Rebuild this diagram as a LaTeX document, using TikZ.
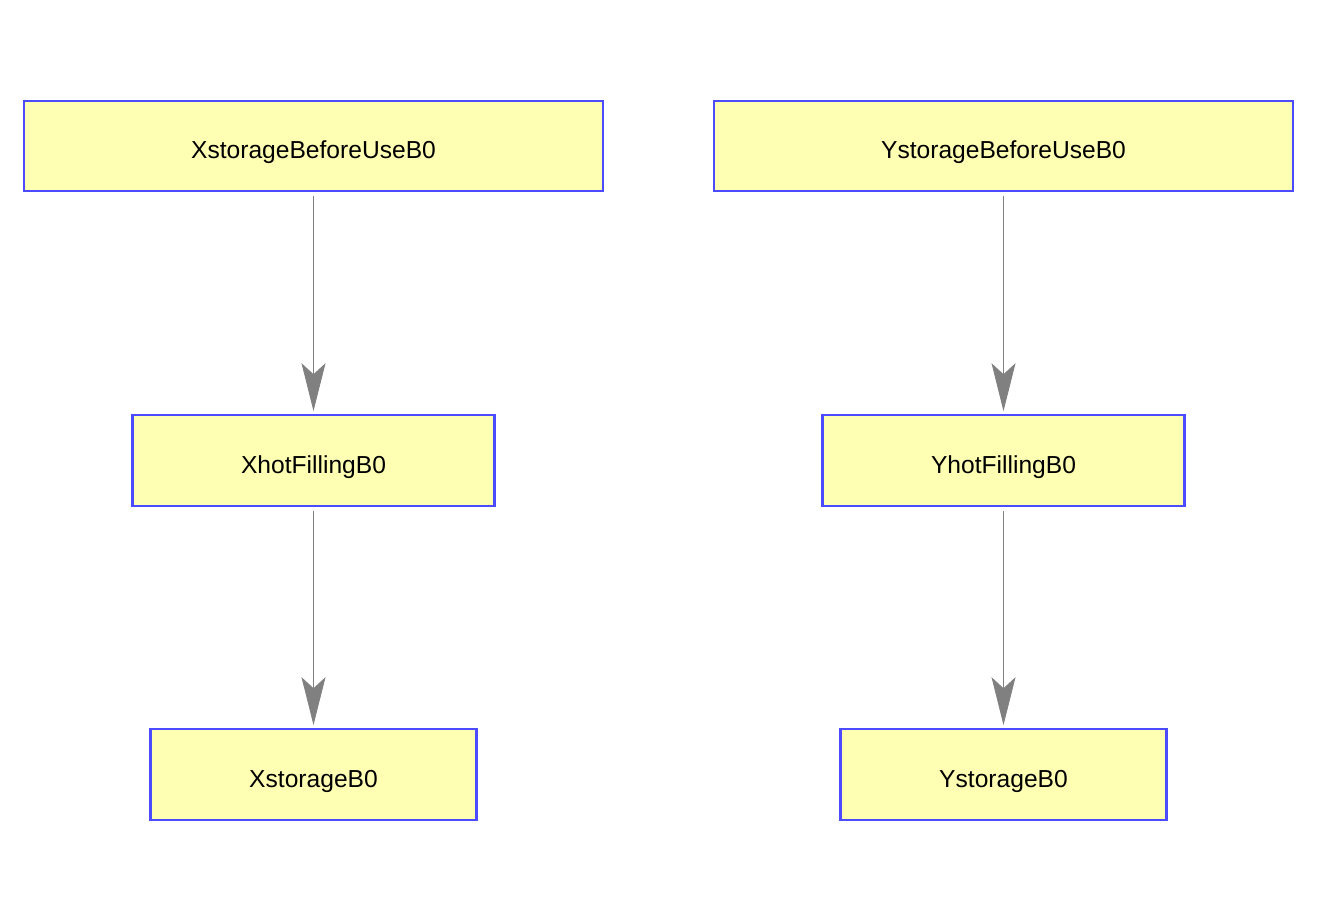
\documentclass[tikz,border=0pt]{standalone}
\usepackage{fontspec}
\setmainfont{Liberation Sans}
\usetikzlibrary{arrows.meta}
\definecolor{boxfill}{HTML}{FFFFB4}
\definecolor{boxline}{HTML}{4B4BFF}
\definecolor{flowline}{HTML}{808080}
\def\colsep{13.8cm}
\begin{document}
\begin{tikzpicture}[x=1cm,y=1cm,shorten >=0.06cm,shorten <=0.08cm,draw=flowline]
	\tikzstyle{every edge}=[draw=flowline,line width=0.5pt,-{Stealth[length=0.96cm,width=0.48cm,inset=0.22cm]}]
	\tikzstyle{state}=[rectangle,fill=boxfill,draw=boxline,line width=1.2pt,font=\fontsize{14}{16}\selectfont,inner sep=0pt,minimum height=1.81cm,text height=0.5cm,text depth=0cm]
	\tikzstyle{first state}=[state,minimum width=11.58cm]
	\tikzstyle{hot state}=[state,minimum width=7.24cm]
	\tikzstyle{store state}=[state,minimum width=6.52cm]

	% Fix the page size
	\useasboundingbox (0,0) rectangle (26.34,-18.42);

	% Draw both columns of states
	\foreach \name / \x in {X/6.27,Y/20.07}
	{
	\node[first state] (\name-1) at (\x,-2.92) {\name storageBeforeUseB0};
	\node[hot state] (\name-2) at (\x,-9.21) {\name hotFillingB0};
	\node[store state] (\name-3) at (\x,-15.49) {\name storageB0};
	}

	% Connect the states of each column
	\foreach \name in {X,Y}
	{
	\path (\name-1) edge (\name-2);
	\path (\name-2) edge (\name-3);
	}
\end{tikzpicture}
\end{document}
